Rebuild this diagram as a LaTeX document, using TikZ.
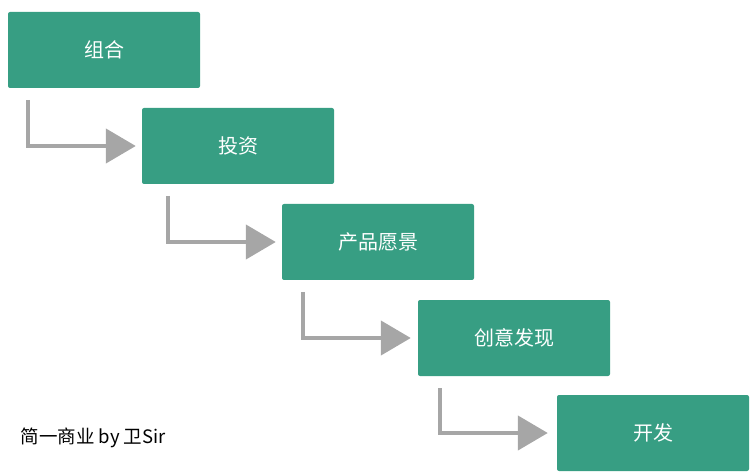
\documentclass[tikz,border=0pt]{standalone}
\usepackage{fontspec}
\newfontfamily\cjk{Noto Sans CJK SC}
\usetikzlibrary{arrows.meta}
\definecolor{teal1}{HTML}{379E83}
\definecolor{gr}{HTML}{A6A6A6}
\begin{document}
\begin{tikzpicture}[x=1pt,y=-1pt,
  stepbox/.style={fill=teal1,rounded corners=2pt,minimum width=192pt,minimum height=76pt,inner sep=0pt,text=white,font=\cjk\fontsize{20}{24}\selectfont},
  elbow/.style={draw=gr,line width=4.5pt,-{Triangle[length=30pt,width=34pt]}}]
\useasboundingbox (0,0) rectangle (750,473);
\node[stepbox] (b1) at (104,50) {组合};
\node[stepbox] (b2) at (238,146) {投资};
\node[stepbox] (b3) at (378,242) {产品愿景};
\node[stepbox] (b4) at (514,338) {创意发现};
\node[stepbox] (b5) at (653,433) {开发};
\coordinate (s1) at (28,100); \coordinate (s2) at (168,196);
\coordinate (s3) at (303,292); \coordinate (s4) at (440,388);
\draw[elbow] (s1) |- ([xshift=-6pt]b2.west);
\draw[elbow] (s2) |- ([xshift=-6pt]b3.west);
\draw[elbow] (s3) |- ([xshift=-7pt]b4.west);
\draw[elbow] (s4) |- ([xshift=-9pt]b5.west);
\node[anchor=west,font=\cjk\fontsize{18.5}{22}\selectfont] (cap) at (17,438) {简一商业 by 卫Sir};
\end{tikzpicture}
\end{document}
